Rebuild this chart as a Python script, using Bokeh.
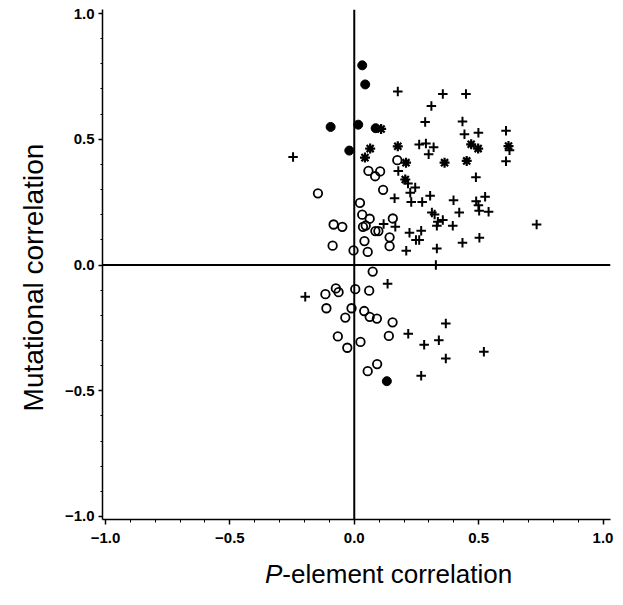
from math import pi
from bokeh.plotting import figure
from bokeh.models import FixedTicker, Span, Label
from bokeh.embed import file_html
from bokeh.resources import INLINE

# ---- data ----
cross_x = [0.175, 0.356, 0.449, 0.31, 0.285, 0.435, 0.443, 0.499, 0.61, 0.61,
           0.489, 0.399, 0.49, 0.499, 0.526, 0.422, 0.502, 0.54, 0.396, 0.733,
           0.435, 0.503, -0.246, 0.261, 0.288, 0.319, 0.299, 0.177, 0.245, 0.225,
           0.162, 0.229, 0.273, 0.305, 0.312, 0.323, 0.336, 0.356, 0.332, 0.118,
           0.165, 0.222, 0.269, 0.248, 0.261, 0.332, 0.209, 0.328, 0.134, -0.197,
           0.368, 0.217, 0.281, 0.34, 0.368, 0.521, 0.269, 0.624, 0.216]
cross_y = [0.69, 0.68, 0.68, 0.632, 0.569, 0.571, 0.52, 0.526, 0.534, 0.413,
           0.349, 0.257, 0.254, 0.238, 0.271, 0.209, 0.216, 0.212, 0.156, 0.161,
           0.088, 0.108, 0.429, 0.479, 0.483, 0.468, 0.44, 0.374, 0.308, 0.287,
           0.265, 0.251, 0.251, 0.275, 0.209, 0.201, 0.172, 0.179, 0.156, 0.163,
           0.152, 0.128, 0.136, 0.099, 0.099, 0.066, 0.057, 0.0, -0.075, -0.126,
           -0.233, -0.273, -0.317, -0.299, -0.372, -0.345, -0.44, 0.456, 0.324]

star_x = [0.108, 0.47, 0.498, 0.62, 0.452, 0.064, 0.043, 0.175, 0.208, 0.363, 0.205]
star_y = [0.541, 0.48, 0.463, 0.473, 0.414, 0.463, 0.427, 0.472, 0.407, 0.407, 0.34]

open_x = [0.173, 0.057, 0.084, 0.104, 0.116, -0.146, 0.023, 0.032, 0.062, 0.155,
          -0.083, -0.048, 0.035, 0.046, 0.085, 0.097, 0.041, 0.142, 0.142, -0.087,
          -0.003, 0.054, 0.074, -0.074, -0.063, -0.116, 0.004, 0.06, -0.112, -0.011,
          -0.036, 0.04, 0.062, 0.091, 0.154, -0.066, 0.025, 0.139, -0.028, 0.092,
          0.054]
open_y = [0.417, 0.374, 0.353, 0.372, 0.299, 0.285, 0.247, 0.2, 0.184, 0.185,
          0.161, 0.152, 0.152, 0.157, 0.135, 0.135, 0.095, 0.11, 0.075, 0.077,
          0.058, 0.052, -0.026, -0.093, -0.108, -0.116, -0.096, -0.102, -0.172, -0.172,
          -0.209, -0.183, -0.206, -0.213, -0.228, -0.284, -0.306, -0.282, -0.329, -0.394,
          -0.422]

filled_x = [0.032, 0.044, -0.095, 0.016, 0.086, -0.02, 0.131]
filled_y = [0.794, 0.718, 0.549, 0.558, 0.544, 0.455, -0.462]

tick_values = [-1.0, -0.5, 0.0, 0.5, 1.0]
tick_labels = ["\u22121.0", "\u22120.5", "0.0", "0.5", "1.0"]
minor_values = [-0.9, -0.8, -0.7, -0.6, -0.4, -0.3, -0.2, -0.1,
                0.1, 0.2, 0.3, 0.4, 0.6, 0.7, 0.8, 0.9]

FONT = "Liberation Sans"

p = figure(width=623, height=605, x_range=(-1.012, 1.03), y_range=(-1.012, 1.016),
           output_backend="svg", toolbar_location=None,
           min_border_left=102, min_border_right=13, min_border_top=9, min_border_bottom=85)
p.outline_line_color = None
p.xgrid.visible = False
p.ygrid.visible = False
p.background_fill_color = "white"
p.border_fill_color = "white"

overrides = {v: t for v, t in zip(tick_values, tick_labels)}
for ax in (p.xaxis[0], p.yaxis[0]):
    ax.ticker = FixedTicker(ticks=tick_values, minor_ticks=minor_values)
    ax.major_label_overrides = overrides
    ax.axis_line_width = 1.5
    ax.axis_line_color = "black"
    ax.major_tick_line_width = 1.5
    ax.major_tick_line_color = "black"
    ax.minor_tick_line_color = "black"
    ax.minor_tick_line_width = 1
    ax.major_tick_in = 0
    ax.minor_tick_in = 0
    ax.major_label_text_font = FONT
    ax.major_label_text_font_style = "bold"
    ax.major_label_text_font_size = "15px"
    ax.major_label_text_color = "black"
p.xaxis.major_tick_out = 5
p.xaxis.minor_tick_out = 3
p.xaxis.major_label_standoff = 8
p.yaxis.major_tick_out = 4
p.yaxis.minor_tick_out = 2
p.yaxis.major_label_standoff = 4

p.add_layout(Span(location=0, dimension="height", line_color="black", line_width=2))
p.add_layout(Span(location=0, dimension="width", line_color="black", line_width=2))

p.scatter(cross_x, cross_y, marker="cross", size=9.5, line_width=2, line_color="black")
p.scatter(star_x, star_y, marker="asterisk", size=10, line_width=2.2, line_color="black")
p.scatter(open_x, open_y, marker="circle", size=8.5, line_width=1.8,
          line_color="black", fill_color=None)
p.scatter(filled_x, filled_y, marker="circle", size=9, line_width=1,
          line_color="black", fill_color="black")

# y-axis title (in the panel left of the plot, positioned by the scales)
p.add_layout(Label(x=-1.29, y=-0.05, text="Mutational correlation", angle=pi / 2,
                   text_align="center", text_baseline="middle",
                   text_font=FONT, text_font_size="28px", text_color="black"), "left")

# x-axis title with italic "P" (in the panel below the plot, positioned by the scales)
p.add_layout(Label(x=-0.289, y=-1.23, text="P",
                   text_align="right", text_baseline="middle",
                   text_font=FONT, text_font_style="italic", text_font_size="26px",
                   text_color="black"), "below")
p.add_layout(Label(x=-0.289, y=-1.23,
                   text="-element correlation", text_align="left", text_baseline="middle",
                   text_font=FONT, text_font_size="26px", text_color="black"), "below")

open("out.html", "w").write(file_html(p, INLINE))
